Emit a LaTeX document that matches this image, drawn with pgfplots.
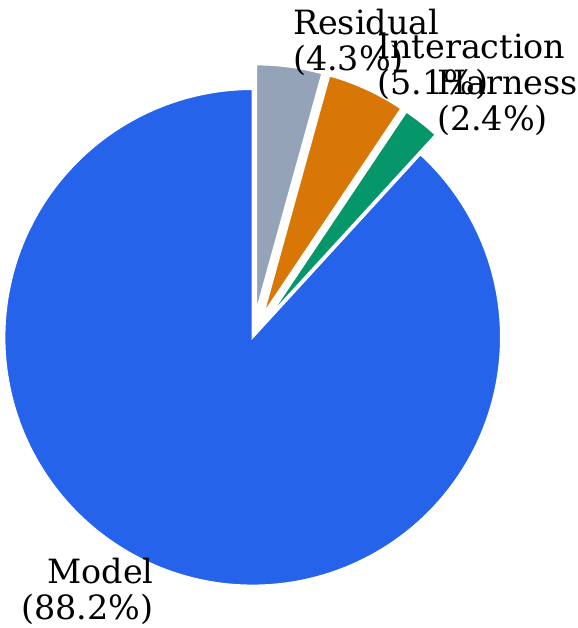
\documentclass[border=0pt]{standalone}
\usepackage{pgfplots}
\pgfplotsset{compat=1.18}
\usepackage{fontspec}
\setmainfont{DejaVu Serif}
\definecolor{cModel}{RGB}{37,99,235}
\definecolor{cHarness}{RGB}{5,150,105}
\definecolor{cInter}{RGB}{217,119,6}
\definecolor{cResid}{RGB}{148,163,184}
\begin{document}
\begin{tikzpicture}
\begin{axis}[
  width=576pt, height=628pt, scale only axis,
  xmin=0, xmax=576, ymin=0, ymax=628,
  hide axis, clip=false,
]
\path (0,0) rectangle (576,628);
% shares (percent): Model 88.2, Harness 2.4, Interaction 5.1, Residual 4.3
% start angle 90, counterclockwise; small slices exploded by 0.1 R (R = 248.3)
% Model (not exploded), centre (252.7,290.7)
\addplot[fill=cModel, draw=white, line width=2pt, domain={90}:{90+88.2*3.6}, samples=240, variable=\t]
  ({252.7+248.3*cos(t)},{290.7+248.3*sin(t)}) -- (252.7,290.7) -- cycle;
% Harness
\addplot[fill=cHarness, draw=white, line width=2pt, domain={90+88.2*3.6}:{90+(88.2+2.4)*3.6}, samples=30, variable=\t]
  ({268.05+248.3*cos(t)},{310.22+248.3*sin(t)}) -- (268.05,310.22) -- cycle;
% Interaction
\addplot[fill=cInter, draw=white, line width=2pt, domain={90+(88.2+2.4)*3.6}:{90+(88.2+2.4+5.1)*3.6}, samples=40, variable=\t]
  ({263.06+248.3*cos(t)},{313.27+248.3*sin(t)}) -- (263.06,313.27) -- cycle;
% Residual
\addplot[fill=cResid, draw=white, line width=2pt, domain={90+(88.2+2.4+5.1)*3.6}:{450}, samples=40, variable=\t]
  ({256.04+248.3*cos(t)},{315.3+248.3*sin(t)}) -- (256.04,315.3) -- cycle;
\begin{scope}[every node/.style={inner sep=0pt, font=\fontsize{33.4}{36}\selectfont}]
\node[anchor=east, align=right] at (153.8,36.1) {Model\\(88.2\%)};
\node[anchor=west, align=left] at (436.85,524.9) {Harness\\(2.4\%)};
\node[anchor=west, align=left] at (377.0,561.5) {Interaction\\(5.1\%)};
\node[anchor=west, align=left] at (292.8,585.9) {Residual\\(4.3\%)};
\end{scope}
\end{axis}
\end{tikzpicture}
\end{document}
